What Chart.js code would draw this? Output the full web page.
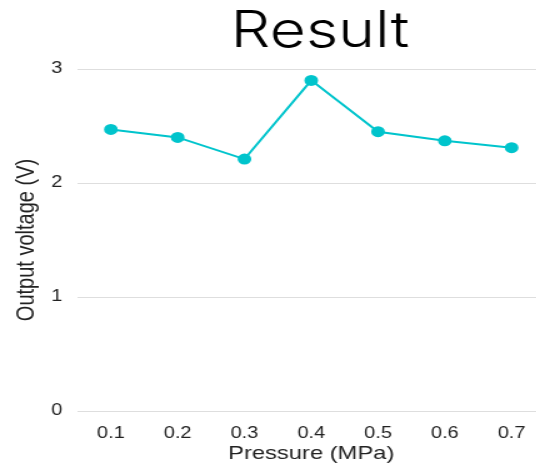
<!DOCTYPE html>
<html>
<head>
<meta charset="utf-8">
<script src="https://cdn.jsdelivr.net/npm/chart.js@4"></script>
<style>
  html, body { margin: 0; padding: 0; background: #fff; overflow: hidden; }
  /* the reference picture is stretched sideways, so the canvas is too */
  #wrap { width: 536px; height: 465px; overflow: hidden; }
  #chart { transform: scaleX(1.25); transform-origin: 0 0; }
</style>
</head>
<body>
<div id="wrap"><canvas id="chart" width="448" height="465"></canvas></div>
<script>
// Data
const pressure = ['0.1', '0.2', '0.3', '0.4', '0.5', '0.6', '0.7'];
const outputVoltage = [2.47, 2.40, 2.21, 2.90, 2.45, 2.37, 2.31];
const yTicks = [0, 1, 2, 3];

const lineColor = '#00c4cc';
const textColor = '#222';

// the title sits a little right of the plot centre in the reference
const nudgeTitle = {
    id: 'nudgeTitle',
    afterLayout(chart) {
        if (chart.titleBlock) {
            chart.titleBlock.left += 7;
            chart.titleBlock.right += 7;
        }
    }
};

const ctx = document.getElementById('chart').getContext('2d');
new Chart(ctx, {
    type: 'line',
    data: {
        labels: pressure,
        datasets: [{
            data: outputVoltage,
            borderColor: lineColor,
            backgroundColor: lineColor,
            borderWidth: 2,
            pointRadius: 4.5,
            pointHoverRadius: 4.5,
            tension: 0,
            fill: false
        }]
    },
    plugins: [nudgeTitle],
    options: {
        responsive: false,
        devicePixelRatio: 1,
        animation: false,
        layout: { padding: { left: 0, right: 12, top: 0, bottom: 0 } },
        plugins: {
            legend: { display: false },
            tooltip: { enabled: false },
            title: {
                display: true,
                text: 'Result',
                fullSize: false, // centre over the plot area, not the canvas
                color: '#000',
                font: { family: 'Inter', size: 50, weight: 300, lineHeight: 1.2 },
                padding: { top: 1.5, bottom: 7.5 }
            }
        },
        scales: {
            x: {
                offset: true,
                grid: { display: false },
                border: { display: false },
                ticks: {
                    color: textColor,
                    padding: 5,
                    font: { family: 'Liberation Sans', size: 16 }
                },
                title: {
                    display: true,
                    text: 'Pressure (MPa)',
                    color: textColor,
                    padding: { top: 0, bottom: 0 },
                    font: { family: 'Liberation Sans', size: 19 }
                },
                afterFit: (scale) => { scale.height = 54; }
            },
            y: {
                min: yTicks[0],
                max: yTicks[yTicks.length - 1],
                afterBuildTicks: (scale) => {
                    scale.ticks = yTicks.map(v => ({ value: v }));
                },
                grid: { color: '#dedede', drawTicks: false, lineWidth: 1 },
                border: { display: false },
                ticks: {
                    color: textColor,
                    padding: 12,
                    font: { family: 'Liberation Sans', size: 16 }
                },
                title: {
                    display: true,
                    text: 'Output voltage (V)',
                    color: textColor,
                    padding: { top: 9, bottom: 0 },
                    font: { family: 'Liberation Sans', size: 20 }
                },
                afterFit: (scale) => { scale.width = 62; }
            }
        }
    }
});
</script>
</body>
</html>
